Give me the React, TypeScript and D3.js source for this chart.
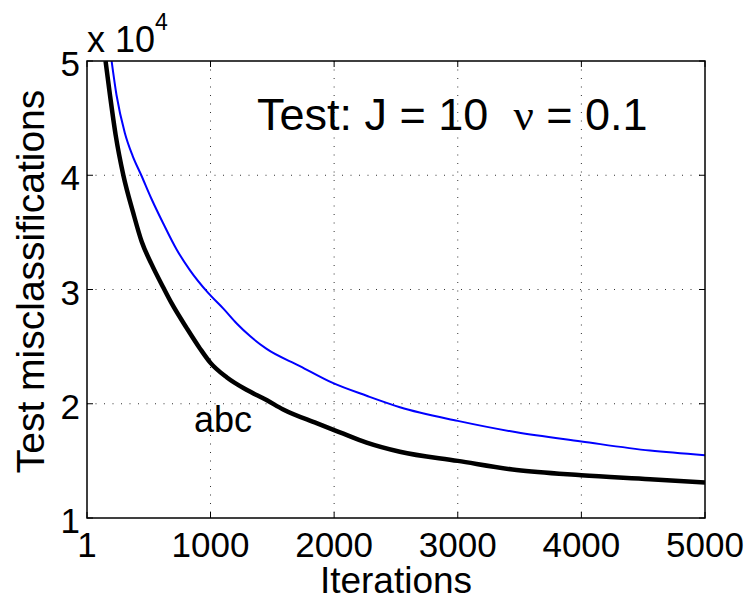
import React from "react";
import * as d3 from "d3";

// values in units of 1e4 misclassifications
const blackIters = [151, 187, 233, 295, 375, 443, 524, 617, 685, 809, 917, 998, 1133, 1295, 1457, 1588, 1858, 2047, 2263, 2532, 3000, 3476, 4000, 4555, 5000];
const blackVals = [5.0, 4.7, 4.35, 4.0, 3.67, 3.42, 3.22, 3.02, 2.88, 2.66, 2.48, 2.36, 2.23, 2.12, 2.03, 1.95, 1.83, 1.75, 1.66, 1.58, 1.5, 1.42, 1.375, 1.34, 1.31];

const blueIters = [200, 240, 307, 370, 440, 524, 617, 726, 833, 981, 1106, 1214, 1322, 1454, 1723, 1993, 2263, 2532, 3000, 3476, 4000, 4555, 5000];
const blueVals = [5.0, 4.7, 4.37, 4.17, 4.0, 3.79, 3.58, 3.35, 3.17, 2.97, 2.83, 2.7, 2.59, 2.48, 2.33, 2.18, 2.07, 1.97, 1.85, 1.75, 1.67, 1.59, 1.55];

const xTicks = [1, 1000, 2000, 3000, 4000, 5000];
const yTicks = [1, 2, 3, 4, 5];

const font = "'Liberation Sans', Arial, sans-serif";

const App = () => {
    const margin = { top: 61, right: 48, bottom: 83, left: 87 };
    const W = 753;
    const H = 601;
    const width = W - margin.left - margin.right;
    const height = H - margin.top - margin.bottom;

    const x = d3.scaleLinear().domain([1, 5000]).range([0, width]);
    const y = d3.scaleLinear().domain([1, 5]).range([height, 0]);

    const line = d3.line<[number, number]>()
        .x((d) => x(d[0]))
        .y((d) => y(d[1]))
        .curve(d3.curveMonotoneX);

    const blackPath = line(blackIters.map((it, i) => [it, blackVals[i]]));
    const bluePath = line(blueIters.map((it, i) => [it, blueVals[i]]));

    const tickLen = 6;

    return (
        <svg width={W} height={H} style={{ position: "absolute", left: 0, top: 0, background: "#fff" }}>
            <g transform={`translate(${margin.left},${margin.top})`}>
                <defs>
                    <clipPath id="plot-clip">
                        <rect x={0} y={0} width={width} height={height} />
                    </clipPath>
                </defs>

                {/* grid */}
                {xTicks.filter((t) => t !== 1 && t !== 5000).map((t) => (
                    <line key={"gx" + t} x1={x(t)} x2={x(t)} y1={0} y2={height}
                        stroke="#333" strokeWidth={1} strokeDasharray="1 7.5" />
                ))}
                {yTicks.filter((t) => t !== 1 && t !== 5).map((t) => (
                    <line key={"gy" + t} x1={0} x2={width} y1={y(t)} y2={y(t)}
                        stroke="#333" strokeWidth={1} strokeDasharray="1 7.5" />
                ))}

                {/* curves */}
                <g clipPath="url(#plot-clip)">
                    <path d={bluePath || ""} fill="none" stroke="#0000ff" strokeWidth={2} />
                    <path d={blackPath || ""} fill="none" stroke="#000" strokeWidth={4.5} />
                </g>

                {/* inward ticks on all sides */}
                {xTicks.map((t) => (
                    <g key={"tx" + t}>
                        <line x1={x(t)} x2={x(t)} y1={height} y2={height - tickLen} stroke="#000" />
                        <line x1={x(t)} x2={x(t)} y1={0} y2={tickLen} stroke="#000" />
                    </g>
                ))}
                {yTicks.map((t) => (
                    <g key={"ty" + t}>
                        <line x1={0} x2={tickLen} y1={y(t)} y2={y(t)} stroke="#000" />
                        <line x1={width} x2={width - tickLen} y1={y(t)} y2={y(t)} stroke="#000" />
                    </g>
                ))}

                {/* frame */}
                <rect x={0} y={0} width={width} height={height} fill="none" stroke="#000" strokeWidth={1.5} />

                {/* tick labels */}
                {xTicks.map((t) => (
                    <text key={"lx" + t} x={x(t)} y={height + 39} textAnchor="middle"
                        fontFamily={font} fontSize={35}>{t}</text>
                ))}
                {yTicks.map((t) => (
                    <text key={"ly" + t} x={-7} y={y(t) + 15} textAnchor="end"
                        fontFamily={font} fontSize={35}>{t}</text>
                ))}

                {/* exponent */}
                <text x={0} y={-9} fontFamily={font} fontSize={36}>
                    x 10
                    <tspan fontSize={23} dy={-22}>4</tspan>
                </text>

                {/* annotations */}
                <text x={257 - margin.left} y={130 - margin.top} fontFamily={font} fontSize={45} style={{ whiteSpace: "pre" }}>
                    {"Test: J = 10  "}
                    <tspan fontFamily="'Liberation Serif', 'Times New Roman', serif">ν</tspan>
                    {" = 0.1"}
                </text>
                <text x={194 - margin.left} y={432 - margin.top} fontFamily={font} fontSize={36}>abc</text>

                {/* axis titles */}
                <text x={width / 2} y={height + 75} textAnchor="middle" fontFamily={font} fontSize={37}>Iterations</text>
                <text transform={`translate(${44 - margin.left},${height / 2 - 8}) rotate(-90)`} textAnchor="middle"
                    fontFamily={font} fontSize={39}>Test misclassifications</text>
            </g>
        </svg>
    );
};

export default App;
